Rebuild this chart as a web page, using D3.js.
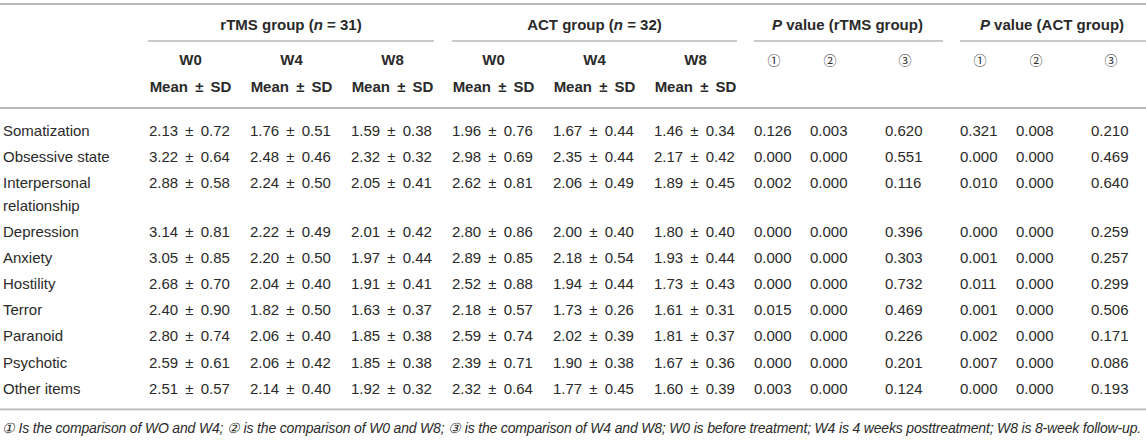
<!DOCTYPE html>
<html>
<head>
<meta charset="utf-8">
<script src="https://cdn.jsdelivr.net/npm/d3@7/dist/d3.min.js"></script>
<style>
  html, body { margin: 0; padding: 0; background: #ffffff; }
  svg { display: block; }
  text { font-family: "Liberation Sans", Arial, Helvetica, sans-serif; fill: #2a2a2a; }
</style>
</head>
<body>
<svg id="chart" width="1146" height="440"></svg>
<script>
// ---------------- DATA ----------------
const items = ["Somatization", "Obsessive state", "Interpersonal relationship", "Depression",
  "Anxiety", "Hostility", "Terror", "Paranoid", "Psychotic", "Other items"];

const groups = ["rTMS group", "ACT group"];
const groupN = [31, 32];
const timepoints = ["W0", "W4", "W8"];
const statLabel = "Mean \u00b1 SD";
const comparisons = ["\u2460", "\u2461", "\u2462"];

// [mean, sd]
const rtmsW0 = [[2.13,0.72],[3.22,0.64],[2.88,0.58],[3.14,0.81],[3.05,0.85],[2.68,0.70],[2.40,0.90],[2.80,0.74],[2.59,0.61],[2.51,0.57]];
const rtmsW4 = [[1.76,0.51],[2.48,0.46],[2.24,0.50],[2.22,0.49],[2.20,0.50],[2.04,0.40],[1.82,0.50],[2.06,0.40],[2.06,0.42],[2.14,0.40]];
const rtmsW8 = [[1.59,0.38],[2.32,0.32],[2.05,0.41],[2.01,0.42],[1.97,0.44],[1.91,0.41],[1.63,0.37],[1.85,0.38],[1.85,0.38],[1.92,0.32]];
const actW0  = [[1.96,0.76],[2.98,0.69],[2.62,0.81],[2.80,0.86],[2.89,0.85],[2.52,0.88],[2.18,0.57],[2.59,0.74],[2.39,0.71],[2.32,0.64]];
const actW4  = [[1.67,0.44],[2.35,0.44],[2.06,0.49],[2.00,0.40],[2.18,0.54],[1.94,0.44],[1.73,0.26],[2.02,0.39],[1.90,0.38],[1.77,0.45]];
const actW8  = [[1.46,0.34],[2.17,0.42],[1.89,0.45],[1.80,0.40],[1.93,0.44],[1.73,0.43],[1.61,0.31],[1.81,0.37],[1.67,0.36],[1.60,0.39]];

const pRtms1 = [0.126,0.000,0.002,0.000,0.000,0.000,0.015,0.000,0.000,0.003];
const pRtms2 = [0.003,0.000,0.000,0.000,0.000,0.000,0.000,0.000,0.000,0.000];
const pRtms3 = [0.620,0.551,0.116,0.396,0.303,0.732,0.469,0.226,0.201,0.124];
const pAct1  = [0.321,0.000,0.010,0.000,0.001,0.011,0.001,0.002,0.007,0.000];
const pAct2  = [0.008,0.000,0.000,0.000,0.000,0.000,0.000,0.000,0.000,0.000];
const pAct3  = [0.210,0.469,0.640,0.259,0.257,0.299,0.506,0.171,0.086,0.193];

const footnote = "\u2460 Is the comparison of WO and W4; \u2461 is the comparison of W0 and W8; \u2462 is the comparison of W4 and W8; W0 is before treatment; W4 is 4 weeks posttreatment; W8 is 8-week follow-up.";

// ---------------- LAYOUT ----------------
const W = 1146, H = 440;
const svg = d3.select("#chart");
const lineColor = "#b8b8b8";
const fs = 15;

const fmtMean = d3.format(".2f");
const fmtP = d3.format(".3f");

// mean columns (6), left edges
const meanCols = [rtmsW0, rtmsW4, rtmsW8, actW0, actW4, actW8];
const xMean = d3.scaleLinear().domain([0, 5]).range([149, 654]);
const meanW = 83;

// p-value columns
const pCols = [pRtms1, pRtms2, pRtms3, pAct1, pAct2, pAct3];
const pGroupX = d3.scaleOrdinal().domain([0, 1]).range([754, 960]);
const pOffset = d3.scaleOrdinal().domain([0, 1, 2]).range([0, 56, 131]);
const xP = i => pGroupX(Math.floor(i / 3)) + pOffset(i % 3);
const pW = 38;

// header y
const yTop = 4, yGroup = 25, yUnder = 41, yTime = 60, yStat = 87, yHeadLine = 108;
const rowStart = 131, rowPitch = 26.1, wrapPitch = 22.5;

function hline(x1, x2, y, w) {
  svg.append("line").attr("x1", x1).attr("x2", x2).attr("y1", y).attr("y2", y)
    .attr("stroke", lineColor).attr("stroke-width", w || 1.6);
}

// top & header lines
hline(0, W, yTop, 1.8);
hline(0, W, yHeadLine, 1.8);

// group headers (mean groups)
const groupSpans = [[148, 434], [452, 737]];
groups.forEach((g, gi) => {
  const [a, b] = groupSpans[gi];
  const t = svg.append("text").attr("x", (a + b) / 2).attr("y", yGroup).attr("dy", "0.35em")
    .attr("text-anchor", "middle").attr("font-size", fs).attr("font-weight", "bold");
  t.append("tspan").text(g + " (");
  t.append("tspan").attr("font-style", "italic").text("n");
  t.append("tspan").text(" = " + groupN[gi] + ")");
  hline(a, b, yUnder, 1.4);
});

// p-value group headers
const pSpans = [[754, 943], [960, 1146]];
groups.forEach((g, gi) => {
  const [a, b] = pSpans[gi];
  const t = svg.append("text").attr("x", (a + b) / 2 - 1).attr("y", yGroup).attr("dy", "0.35em")
    .attr("text-anchor", "middle").attr("font-size", fs).attr("font-weight", "bold");
  t.append("tspan").attr("font-style", "italic").text("P");
  t.append("tspan").text(" value (" + g + ")");
  hline(a, b, yUnder, 1.4);
});

// time + stat headers
meanCols.forEach((col, i) => {
  const cx = xMean(i) + meanW / 2;
  svg.append("text").attr("x", cx).attr("y", yTime).attr("dy", "0.35em")
    .attr("text-anchor", "middle").attr("font-size", fs).attr("font-weight", "bold")
    .text(timepoints[i % 3]);
  svg.append("text").attr("x", cx).attr("y", yStat).attr("dy", "0.35em")
    .attr("text-anchor", "middle").attr("font-size", fs).attr("font-weight", "bold")
    .style("word-spacing", "3px")
    .text(statLabel);
});

// comparison headers
pCols.forEach((col, i) => {
  svg.append("text").attr("x", xP(i) + pW / 2 + 1).attr("y", yTime).attr("dy", "0.35em")
    .attr("text-anchor", "middle").attr("font-size", 13)
    .style("font-family", "'Noto Sans CJK SC', 'DejaVu Serif', serif")
    .text(comparisons[i % 3]);
});

// ---------------- ROWS ----------------
let extra = 0;
const rowY = [];
const labelMaxW = 140;
items.forEach((name, i) => {
  const y0 = rowStart + rowPitch * i + extra;
  rowY.push(y0);
  // word-wrap label
  const t = svg.append("text").attr("x", 3).attr("y", y0).attr("font-size", fs);
  const words = name.split(" ");
  let line = [];
  let ts = t.append("tspan").attr("x", 3).attr("y", y0).attr("dy", "0.35em");
  let lines = 1;
  words.forEach(w => {
    line.push(w);
    ts.text(line.join(" "));
    if (ts.node().getComputedTextLength() > labelMaxW && line.length > 1) {
      line.pop();
      ts.text(line.join(" "));
      line = [w];
      ts = t.append("tspan").attr("x", 3).attr("y", y0 + wrapPitch * lines).attr("dy", "0.35em").text(w);
      lines++;
    }
  });
  extra += wrapPitch * (lines - 1);
});

meanCols.forEach((col, ci) => {
  svg.append("g").selectAll("text").data(col).join("text")
    .attr("x", xMean(ci)).attr("y", (d, i) => rowY[i]).attr("dy", "0.35em")
    .attr("font-size", fs).style("word-spacing", "3px")
    .text(d => fmtMean(d[0]) + " \u00b1 " + fmtMean(d[1]));
});

pCols.forEach((col, ci) => {
  svg.append("g").selectAll("text").data(col).join("text")
    .attr("x", xP(ci)).attr("y", (d, i) => rowY[i]).attr("dy", "0.35em")
    .attr("font-size", fs)
    .text(d => fmtP(d));
});

// bottom line
const yBottom = rowY[rowY.length - 1] + 21;
hline(0, W, yBottom, 1.8);

// footnote
const fn = svg.append("text").attr("x", 2).attr("y", yBottom + 19).attr("dy", "0.35em")
  .attr("font-size", 14).attr("font-style", "italic").text(footnote);
const natural = fn.node().getComputedTextLength();
const target = 1139;
const ls = (target - natural) / footnote.length;
fn.style("letter-spacing", ls + "px");
</script>
</body>
</html>
